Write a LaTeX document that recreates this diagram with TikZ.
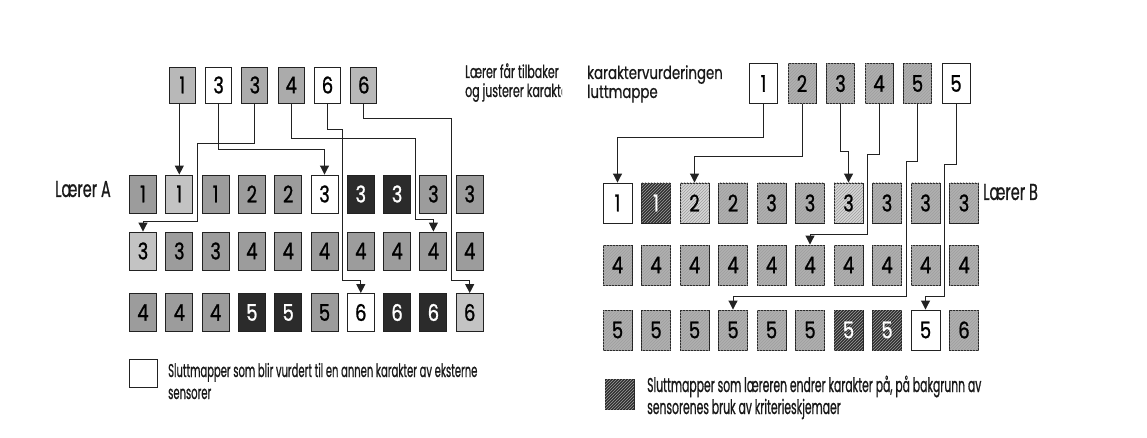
\documentclass[tikz,border=0pt]{standalone}
\usepackage{fontspec}
\usetikzlibrary{arrows.meta,patterns,calc}
% condensed cuts of one geometric sans for the labels, set at different widths
\newfontfamily\fLegA[FakeStretch=0.54,FakeBold=0.7]{Poppins}
\newfontfamily\fLegB[FakeStretch=0.54,FakeBold=0.7]{Poppins}
\newfontfamily\fHead[FakeStretch=0.61,FakeBold=0.7]{Poppins}
\newfontfamily\fHeadB[FakeStretch=0.74,FakeBold=0.6]{Poppins}
\newfontfamily\fTeach[FakeStretch=0.63,FakeBold=0.7]{Poppins}
\newfontfamily\digfont[FakeStretch=0.78,FakeBold=1]{Poppins}

\definecolor{LLight}{HTML}{C3C3C3}
\definecolor{LTop}{HTML}{B8B8B8}
\definecolor{LMed}{HTML}{9C9C9C}
\definecolor{LDark}{HTML}{2B2B2B}
\definecolor{RLight}{HTML}{D6D6D6}
\definecolor{RMed}{HTML}{B0B0B0}
\definecolor{RDark}{HTML}{2F2F2F}
\definecolor{Ink}{HTML}{222222}

\tikzset{
  card/.style={draw=Ink, line width=0.9pt, inner sep=0pt,
    font=\digfont\fontsize{23}{23}\selectfont, text=black},
  lcard/.style={card, minimum width=27pt, minimum height=38pt},
  tcard/.style={card, minimum width=26pt, minimum height=36pt},
  rcard/.style={card, minimum width=29pt, minimum height=40pt},
  ucard/.style={card, minimum width=28pt, minimum height=40pt},
  hatch/.style={postaction={pattern=north east lines, pattern color=black!38}},
  lw/.style={lcard, fill=white},
  ll/.style={lcard, fill=LLight},
  lm/.style={lcard, fill=LMed},
  ld/.style={lcard, fill=LDark, text=white},
  tw/.style={tcard, fill=white},
  tl/.style={tcard, fill=LTop},
  tm/.style={tcard, fill=LMed!85!white},
  rw/.style={rcard, fill=white},
  rl/.style={rcard, fill=RLight, hatch},
  rm/.style={rcard, fill=RMed, hatch},
  rd/.style={rcard, fill=RDark, hatch, text=white},
  uw/.style={ucard, fill=white},
  um/.style={ucard, fill=RMed, hatch},
  conn/.style={draw=Ink, line width=1pt, -{Triangle[width=9pt,length=9pt]}},
  lab/.style={inner sep=0pt, anchor=base west, text=black!90},
}

\begin{document}
\begin{tikzpicture}[x=1pt,y=-1pt]
  \useasboundingbox (0,0) rectangle (1147,438);
  \fill[white] (0,0) rectangle (1147,438);

  % ---------------- Lærer A ----------------
  \foreach \n/\s [count=\i] in {1/tl,3/tw,3/tm,4/tm,6/tw,6/tl}
    \node[\s] (t\i) at ({182.3+36.3*(\i-1)},85) {\n};

  \foreach \n/\s [count=\i] in {1/lm,1/ll,1/lm,2/lm,2/lm,3/lw,3/ld,3/ld,3/lm,3/lm}
    \node[\s] (a\i) at ({143+36.3*(\i-1)},194) {\n};
  \foreach \n/\s [count=\i] in {3/ll,3/lm,3/lm,4/lm,4/lm,4/lm,4/lm,4/lm,4/lm,4/lm}
    \node[\s] (b\i) at ({143+36.3*(\i-1)},251) {\n};
  \foreach \n/\s [count=\i] in {4/lm,4/lm,4/lm,5/ld,5/ld,5/lm,6/lw,6/ld,6/ld,6/ll}
    \node[\s] (c\i) at ({143+36.3*(\i-1)},312.5) {\n};

  \node[lab, font=\fTeach\fontsize{23}{23}\selectfont] (lA) at (55,197) {Lærer A};

  \begin{scope}
    \clip (0,0) rectangle (562,438);
    \node[lab, font=\fHead\fontsize{18}{18}\selectfont] (tA1) at (465,78) {Lærer får tilbaker};
    \node[lab, font=\fHead\fontsize{18}{18}\selectfont] (tA2) at (465,97) {og justerer karakter};
  \end{scope}

  \draw[conn] (t1.south -| a2.north) -- (a2.north);
  \draw[conn] (t2.south) |- ($(a6.north)+(0,-25)$) -- (a6.north);
  \draw[conn] (t3.south) -- ++(0,40) -| ($(a2.south east)!.5!(a3.south west)$)
              -- ++(0,8) -| (b1.north);
  \draw[conn] (t4.south) -- ++(0,35) -| ($(a8.south east)!.5!(a9.south west)$)
              -- ++(0,6) -| (b9.north);
  \draw[conn] (t5.south) -- ++(0,26) -| ($(b6.south east)!.5!(b7.south west)$)
              -- ++(0,10) -| (c7.north);
  \draw[conn] (t6.south) -- ++(0,15) -| ($(b9.south east)!.5!(b10.south west)$)
              -- ++(0,10) -| (c10.north);

  \node[lcard, fill=white, minimum width=28pt, minimum height=28pt] (keyA) at (143,373) {};
  \node[lab, font=\fLegA\fontsize{18.5}{18.5}\selectfont] (kA1) at (168,377)
    {Sluttmapper som blir vurdert til en annen karakter av eksterne};
  \node[lab, font=\fLegA\fontsize{18.5}{18.5}\selectfont] (kA2) at (168,399) {sensorer};

  % ---------------- Lærer B ----------------
  \foreach \n/\s [count=\i] in {1/uw,2/um,3/um,4/um,5/um,5/uw}
    \node[\s] (u\i) at ({763.5+38.5*(\i-1)},83.5) {\n};

  \foreach \n/\s [count=\i] in {1/rw,1/rd,2/rl,2/rm,3/rm,3/rm,3/rl,3/rm,3/rm,3/rm}
    \node[\s] (p\i) at ({617.5+38.5*(\i-1)},203) {\n};
  \foreach \n/\s [count=\i] in {4/rm,4/rm,4/rm,4/rm,4/rm,4/rm,4/rm,4/rm,4/rm,4/rm}
    \node[\s] (q\i) at ({617.5+38.5*(\i-1)},265) {\n};
  \foreach \n/\s [count=\i] in {5/rm,5/rm,5/rm,5/rm,5/rm,5/rm,5/rd,5/rd,5/rw,6/rm}
    \node[\s] (r\i) at ({617.5+38.5*(\i-1)},330) {\n};

  \node[lab, font=\fTeach\fontsize{23}{23}\selectfont] (lB) at (983,200) {Lærer B};
  \node[lab, font=\fHeadB\fontsize{18}{18}\selectfont] (tB1) at (587,79) {karaktervurderingen};
  \node[lab, font=\fHeadB\fontsize{18}{18}\selectfont] (tB2) at (587,98) {luttmappe};

  \draw[conn] (u1.south) -- ++(0,34) -| (p1.north);
  \draw[conn] (u2.south) -- ++(0,53) -| (p3.north);
  \draw[conn] (u3.south) -- ++(0,48) -| (p7.north);
  \draw[conn] (u4.south) -- ++(0,51) -| ($(p7.south east)!.5!(p8.south west)$)
              -- ++(0,11) -| (q6.north);
  \draw[conn] (u5.south) -- ++(0,58) -| ($(q8.south east)!.5!(q9.south west)$)
              -- ++(0,11) -| (r4.north);
  \draw[conn] (u6.south) -- ++(0,61) -| ($(q9.south east)!.5!(q10.south west)$)
              -- ++(0,11) -| (r9.north);

  \node[rcard, fill=RDark, hatch, minimum width=29pt, minimum height=30pt] (keyB) at (619.5,394) {};
  \node[lab, font=\fLegB\fontsize{20}{20}\selectfont] (kB1) at (647,392)
    {Sluttmapper som læreren endrer karakter på, på bakgrunn av};
  \node[lab, font=\fLegB\fontsize{20}{20}\selectfont] (kB2) at (647,414)
    {sensorenes bruk av kriterieskjemaer};
\end{tikzpicture}
\end{document}
